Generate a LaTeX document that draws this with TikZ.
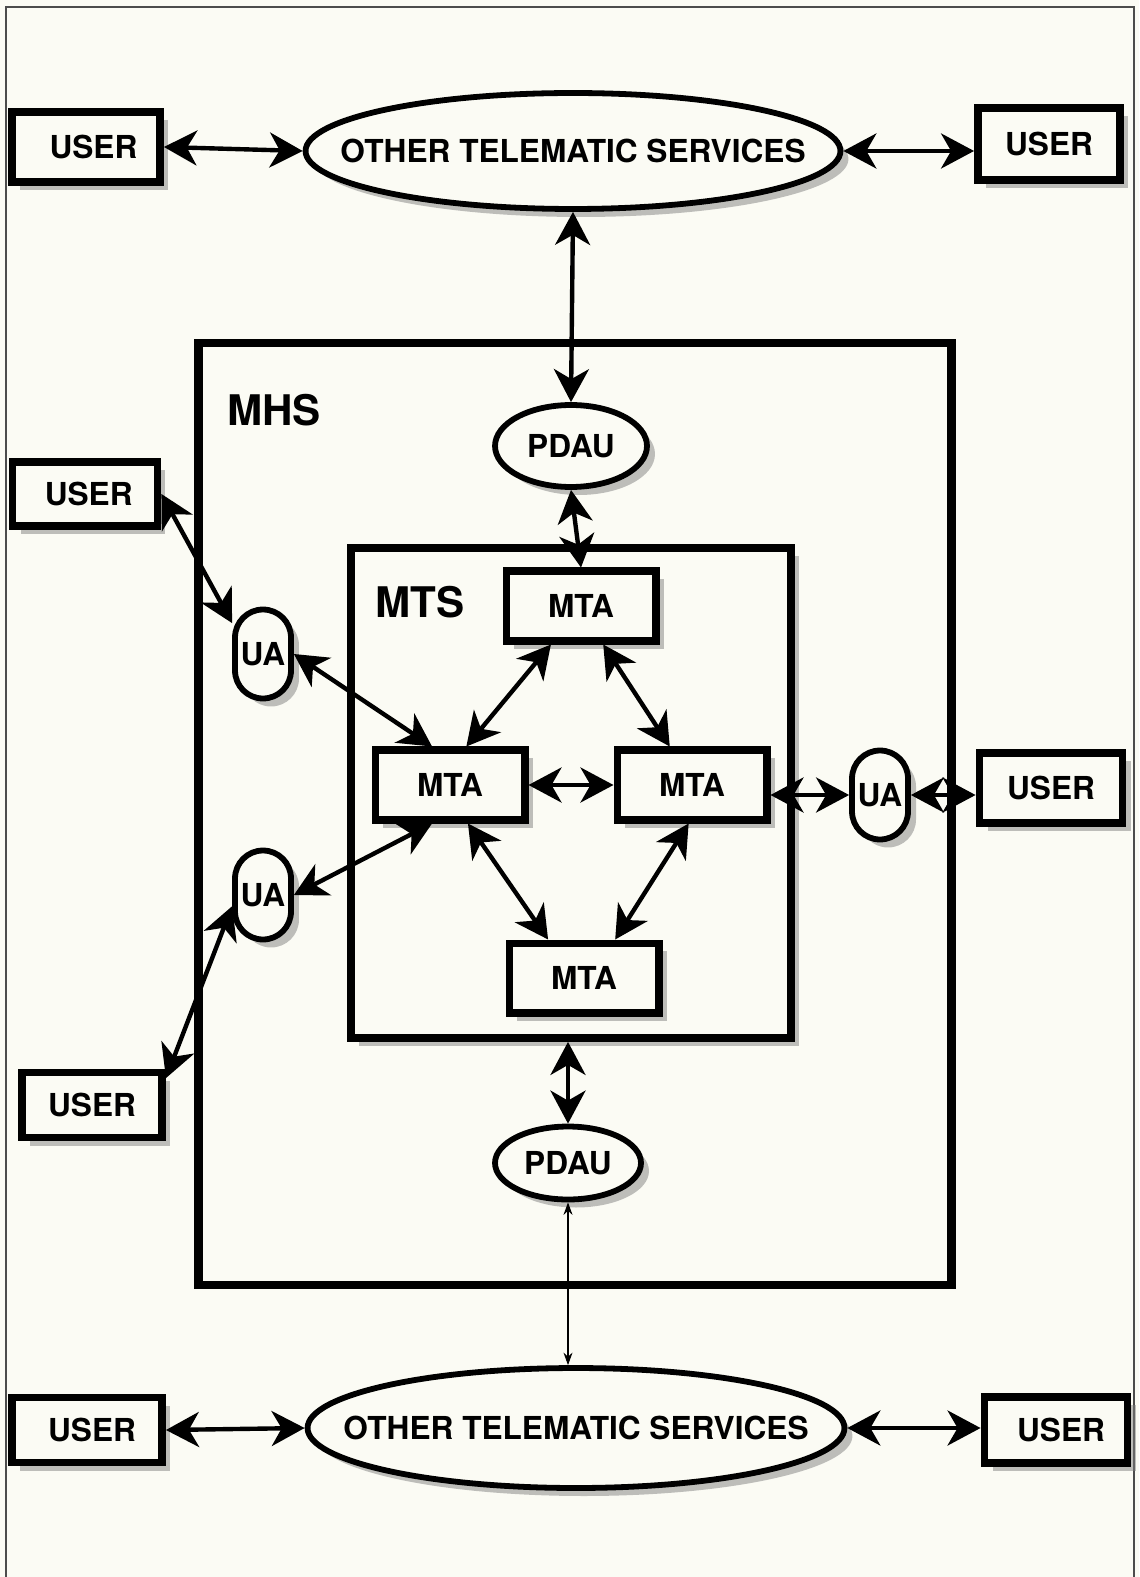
\documentclass[tikz,border=0pt]{standalone}
\usepackage{fontspec}
\setmainfont{TeX Gyre Heros}
\usetikzlibrary{arrows.meta,shapes.geometric,shadows}
\definecolor{paperc}{HTML}{FBFBF4}

\begin{document}
\begin{tikzpicture}[x=0.02cm, y=-0.02cm,
  every node/.style={font=\bfseries\fontsize{18}{21}\selectfont, inner sep=0pt},
  halftone/.style={drop shadow={shadow xshift=0.16cm, shadow yshift=-0.16cm, fill=black!50, opacity=0.5}},
  userbox/.style={draw, fill=paperc, line width=4.5pt, minimum width=2.9cm, minimum height=1.38cm, halftone},
  mtabox/.style={draw, fill=paperc, line width=4pt, minimum width=3.0cm, minimum height=1.4cm, halftone},
  uabox/.style={draw, fill=paperc, line width=3.3pt, rounded corners=0.56cm, minimum width=1.12cm, minimum height=1.78cm, halftone},
  svcell/.style={draw, ellipse, fill=paperc, line width=3.3pt, halftone, label=center:{#1}},
  pdauell/.style={draw, ellipse, fill=paperc, line width=3.3pt, halftone},
  biglabel/.style={font=\bfseries\fontsize{24}{28}\selectfont},
  link/.style={line width=2.5pt, {Stealth[length=0.66cm,width=0.7cm,inset=0.2cm]}-{Stealth[length=0.66cm,width=0.7cm,inset=0.2cm]}},
  thinlink/.style={line width=0.6pt, {Stealth[length=0.25cm,width=0.18cm]}-{Stealth[length=0.25cm,width=0.18cm]}}
]
  \useasboundingbox (0,0) rectangle (1139,1577);
  \fill[paperc] (0,0) rectangle (1139,1577);
  \draw[line width=1.3pt, black!70] (6,1577) -- (6,7) -- (1134,7) -- (1134,1577);

  % systems
  \node (mhs) [draw, line width=5pt, minimum width=15.06cm, minimum height=18.84cm] at (575,814) {};
  \node (mhslabel) [biglabel] at (274,410) {MHS};
  \node (mts) [draw, fill=paperc, line width=4.5pt, minimum width=8.8cm, minimum height=9.8cm, halftone] at (571,793) {};
  \node (mtslabel) [biglabel] at (420,602) {MTS};

  % services and users outside
  \node (svcTop) [svcell={OTHER TELEMATIC SERVICES}, minimum width=10.7cm, minimum height=2.32cm] at (573,151) {};
  \node (svcBot) [svcell={OTHER TELEMATIC SERVICES}, minimum width=10.74cm, minimum height=2.4cm] at (576,1428) {};
  \node (userTL) [userbox, minimum width=2.96cm, minimum height=1.4cm] at (86,147) {\hspace{0.3cm}USER};
  \node (userTR) [userbox, minimum width=2.84cm, minimum height=1.44cm] at (1049,144) {USER\hspace{0.3cm}};
  \node (userML) [userbox, minimum width=2.9cm, minimum height=1.28cm] at (85,494) {\hspace{0.15cm}USER};
  \node (userBL) [userbox, minimum width=2.8cm, minimum height=1.3cm] at (92,1105) {USER\hspace{0.2cm}};
  \node (userMR) [userbox, minimum width=2.86cm, minimum height=1.4cm] at (1051,788) {USER\hspace{0.2cm}};
  \node (userBLo) [userbox, minimum width=3.0cm, minimum height=1.3cm] at (87,1430) {\hspace{0.2cm}USER};
  \node (userBR) [userbox, minimum width=2.86cm, minimum height=1.32cm] at (1056,1430) {\hspace{0.2cm}USER};

  % inside MHS
  \node (pdauT) [pdauell, minimum width=3.04cm, minimum height=1.64cm] at (571,446) {PDAU};
  \node (pdauB) [pdauell, minimum width=2.92cm, minimum height=1.46cm] at (568,1163) {PDAU};
  \node (uaTL) [uabox] at (263,654) {UA};
  \node (uaBL) [uabox] at (263,895) {UA};
  \node (uaR) [uabox] at (880,795) {UA};
  \node (mtaT) [mtabox] at (581,606) {MTA};
  \node (mtaL) [mtabox] at (450,785) {MTA\hspace{0.3cm}};
  \node (mtaR) [mtabox] at (692,785) {MTA};
  \node (mtaB) [mtabox] at (584,978) {MTA};

  % connections
  \draw[link] (userTL.east) -- (svcTop.west);
  \draw[link] (svcTop.east) -- (svcTop.east -| userTR.west);
  \draw[link] (svcTop.south) -- (pdauT.north);
  \draw[link] (pdauT.south) -- (mtaT.north);
  \draw[link] (userML.east) -- (uaTL.135);
  \draw[link] (uaTL.east) -- (mtaL.115);
  \draw[link] (uaBL.east) -- (mtaL.245);
  \draw[link] (uaBL.200) -- (userBL.20);
  \draw[link] (mtaT.232) -- (mtaL.67);
  \draw[link] (mtaT.300) -- (mtaR.120);
  \draw[link] (mtaL.east) -- (mtaR.west);
  \draw[link] (mtaL.295) -- (mtaB.133);
  \draw[link] (mtaR.265) -- (mtaB.51);
  \draw[link] (mtaR.east |- uaR.west) -- (uaR.west);
  \draw[link] (uaR.east) -- (uaR.east -| userMR.west);
  \draw[link] (pdauB.north |- mts.south) -- (pdauB.north);
  \draw[thinlink] (pdauB.south) -- (pdauB.south |- svcBot.north);
  \draw[link] (userBLo.east) -- (svcBot.west);
  \draw[link] (svcBot.east) -- (svcBot.east -| userBR.west);
\end{tikzpicture}
\end{document}
